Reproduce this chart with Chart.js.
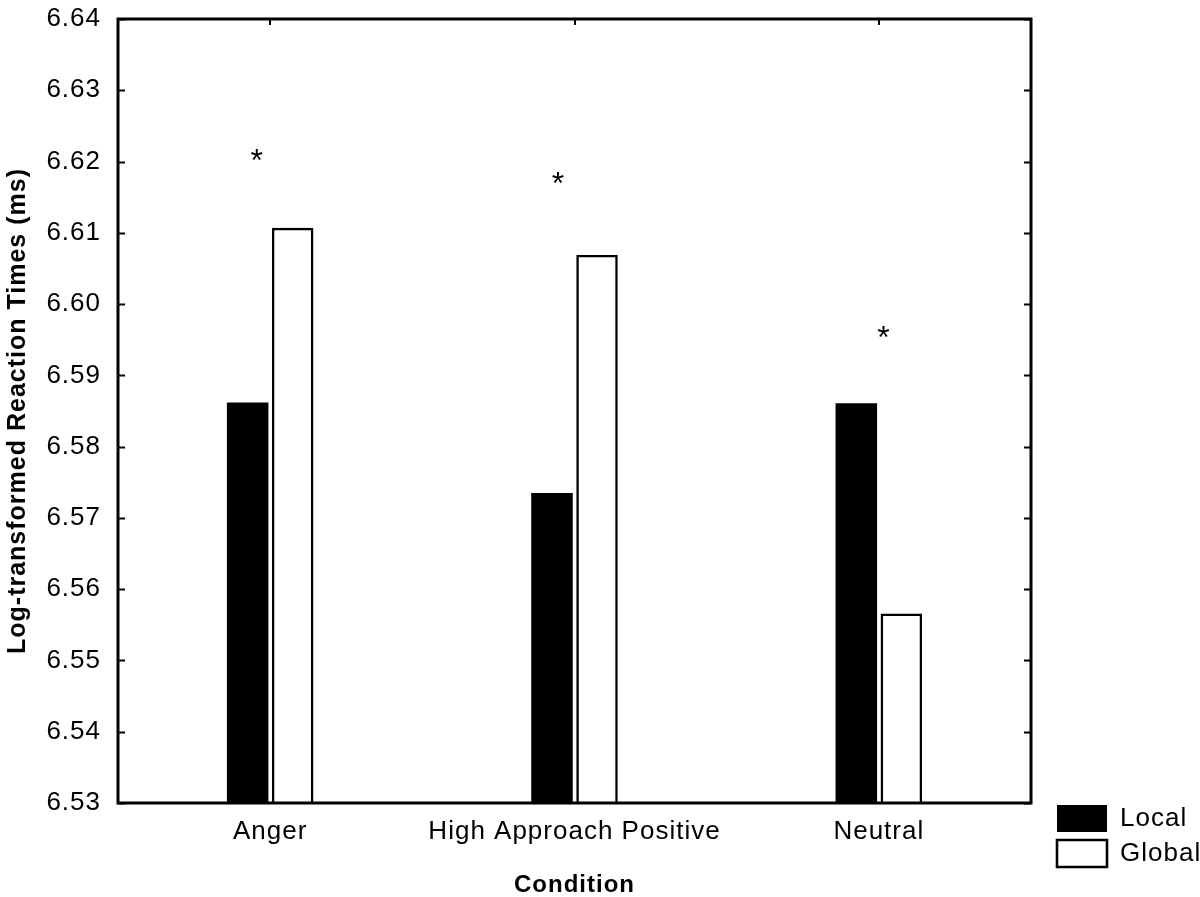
<!DOCTYPE html>
<html>
<head>
<meta charset="utf-8">
<script src="https://cdn.jsdelivr.net/npm/chart.js@4"></script>
<style>
  html, body { margin: 0; padding: 0; background: #fff; }
  #wrap { width: 1200px; height: 897px; }
</style>
</head>
<body>
<div id="wrap"><canvas id="chart"></canvas></div>
<script>
// Chart data
const categories = ['Anger', 'High Approach Positive', 'Neutral'];
const localValues = [6.5862, 6.5735, 6.5861];
const globalValues = [6.6107, 6.6069, 6.5566];
// significance asterisks: height and offset from the category centre
const starValues = [6.6205, 6.6173, 6.5957];
const starOffsets = [-0.044, -0.054, 0.015];
const yMin = 6.53;
const yMax = 6.64;
const yStep = 0.01;

const FONT = '"Liberation Sans", Arial, sans-serif';
const SPACING = '1px';

// slightly wide text, like the original plotting program
const spacingPlugin = {
    id: 'spacing',
    beforeUpdate(chart) { chart.ctx.letterSpacing = SPACING; },
    beforeLayout(chart) { chart.ctx.letterSpacing = SPACING; },
    beforeDraw(chart) { chart.ctx.letterSpacing = SPACING; }
};

// Box frame with inward tick marks, plus the asterisks
const framePlugin = {
    id: 'frame',
    afterDatasetsDraw(chart) {
        const ctx = chart.ctx;
        const area = chart.chartArea;
        const x = chart.scales.x;
        const y = chart.scales.y;
        ctx.save();
        ctx.strokeStyle = '#000';
        ctx.lineWidth = 3;
        ctx.strokeRect(area.left, area.top, area.right - area.left, area.bottom - area.top);

        ctx.lineWidth = 2;
        ctx.beginPath();
        y.ticks.forEach(function(t) {
            const py = Math.round(y.getPixelForValue(t.value)) + 0.5;
            ctx.moveTo(area.left, py);
            ctx.lineTo(area.left + 7, py);
            ctx.moveTo(area.right, py);
            ctx.lineTo(area.right - 7, py);
        });
        categories.forEach(function(c, i) {
            const px = Math.round(x.getPixelForValue(i));
            ctx.moveTo(px, area.top);
            ctx.lineTo(px, area.top + 6);
        });
        ctx.stroke();

        // asterisks
        const starSize = 32;
        ctx.fillStyle = '#000';
        ctx.font = starSize + 'px ' + FONT;
        ctx.textAlign = 'center';
        ctx.textBaseline = 'alphabetic';
        ctx.letterSpacing = '0px';
        starValues.forEach(function(v, i) {
            const px = x.getPixelForValue(i + starOffsets[i]);
            const py = y.getPixelForValue(v);
            ctx.fillText('*', px, py + 0.4 * starSize);
        });
        ctx.restore();
    }
};

const ctx = document.getElementById('chart').getContext('2d');

new Chart(ctx, {
    type: 'bar',
    data: {
        labels: categories,
        datasets: [
            {
                label: 'Local',
                data: localValues,
                backgroundColor: '#000',
                borderColor: '#000',
                borderWidth: 0,
                categoryPercentage: 0.296,
                barPercentage: 0.922
            },
            {
                label: 'Global',
                data: globalValues,
                backgroundColor: '#fff',
                borderColor: '#000',
                borderWidth: 2.6,
                categoryPercentage: 0.296,
                barPercentage: 0.922
            }
        ]
    },
    options: {
        responsive: true,
        maintainAspectRatio: false,
        animation: false,
        layout: {
            padding: { top: 19, left: 0, right: 0, bottom: 22 }
        },
        plugins: {
            tooltip: { enabled: false },
            legend: {
                position: 'right',
                align: 'end',
                maxWidth: 151,
                labels: {
                    color: '#000',
                    boxWidth: 50,
                    boxHeight: 27,
                    padding: 8,
                    font: { family: FONT, size: 26 }
                }
            }
        },
        scales: {
            x: {
                grid: { display: false, drawTicks: false },
                border: { display: false },
                ticks: {
                    color: '#000',
                    padding: 13,
                    maxRotation: 0,
                    font: { family: FONT, size: 26 }
                },
                title: {
                    display: true,
                    text: 'Condition',
                    color: '#000',
                    font: { family: FONT, size: 24, weight: 'bold' },
                    padding: { top: 0, bottom: -25 }
                },
                afterFit(scale) { scale.height = 72; }
            },
            y: {
                min: yMin,
                max: yMax,
                grid: { display: false, drawTicks: false },
                border: { display: false },
                ticks: {
                    stepSize: yStep,
                    color: '#000',
                    padding: 17,
                    font: { family: FONT, size: 26 },
                    callback: function(v) { return v.toFixed(2); }
                },
                title: {
                    display: true,
                    text: 'Log-transformed Reaction Times (ms)',
                    color: '#000',
                    font: { family: FONT, size: 25, weight: 'bold' },
                    padding: { top: 3.5, bottom: 0 }
                },
                afterFit(scale) {
                    scale.width = 118;
                    scale.paddingTop = 14;
                    scale.paddingBottom = 14;
                }
            },
            y2: {
                position: 'right',
                min: yMin,
                max: yMax,
                grid: { display: false, drawTicks: false },
                border: { display: false },
                ticks: { display: false },
                afterFit(scale) { scale.width = 18; }
            }
        }
    },
    plugins: [spacingPlugin, framePlugin]
});
</script>
</body>
</html>
